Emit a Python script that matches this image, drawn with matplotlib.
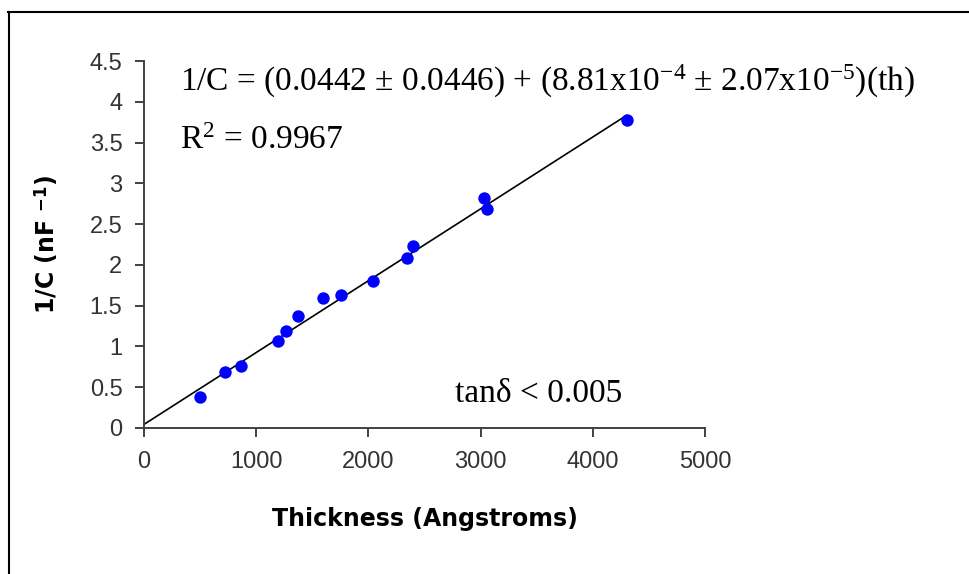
import matplotlib
matplotlib.use('Agg')
import matplotlib.pyplot as plt
from matplotlib.lines import Line2D
import numpy as np

plt.rcParams['mathtext.fontset'] = 'custom'
plt.rcParams['mathtext.rm'] = 'Liberation Serif'
plt.rcParams['mathtext.it'] = 'Liberation Serif:italic'
plt.rcParams['mathtext.bf'] = 'DejaVu Sans:bold'

# thickness (Angstroms) and 1/C (nF^-1)
thickness = [499, 722, 862, 1192, 1266, 1376, 1596, 1753, 2039,
             2342, 2401, 3034, 3061, 4303]
inv_c = [0.38, 0.69, 0.76, 1.07, 1.19, 1.37, 1.60, 1.63, 1.80,
         2.09, 2.23, 2.82, 2.69, 3.78]

# fit coefficients from the annotation
intercept = 0.0442
slope = 8.81e-4
fit_x = [0, 4300]

x_ticks = [0, 1000, 2000, 3000, 4000, 5000]
y_ticks = [0, 0.5, 1, 1.5, 2, 2.5, 3, 3.5, 4, 4.5]
y_ticklabels = ['0', '0.5', '1', '1.5', '2', '2.5', '3', '3.5', '4', '4.5']

fig = plt.figure(figsize=(9.69, 5.74), dpi=100)
ax = fig.add_axes([144/969, 146/574, 561/969, 367/574])

fx = np.array(fit_x)
ax.plot(fx, intercept + slope*fx, color='black', lw=1.2, zorder=2)
ax.scatter(thickness, inv_c, s=80, color='#0000FF', zorder=3, linewidths=0)

ax.set_xlim(0, 5000)
ax.set_ylim(0, 4.5)
ax.set_xticks(x_ticks)
ax.set_yticks(y_ticks)
ax.set_yticklabels(y_ticklabels)
for s in ['top', 'right']:
    ax.spines[s].set_visible(False)
for s in ['left', 'bottom']:
    ax.spines[s].set_color('#404040')
    ax.spines[s].set_linewidth(1.4)
ax.tick_params(direction='out', length=6.5, width=1.4, color='#404040',
               labelcolor='#333333', labelsize=17)
ax.tick_params(axis='x', pad=10)
ax.tick_params(axis='y', pad=9)
for lab in ax.get_xticklabels() + ax.get_yticklabels():
    lab.set_family('Liberation Sans')

ax.set_xlabel('Thickness (Angstroms)', family='DejaVu Sans',
              fontweight='bold', fontsize=17)
ax.set_ylabel(r'1/C (nF $^{\mathbf{-1}}$)', family='DejaVu Sans',
              fontweight='bold', fontsize=17)
ax.xaxis.set_label_coords(0.5, -0.215)
ax.yaxis.set_label_coords(-0.148, 0.5)

serif = dict(family='Liberation Serif', fontsize=24, color='black',
             va='baseline', ha='left')
ax.text(321, 4.14, r'1/C = (0.0442 $\pm$ 0.0446) + (8.81x10$^{-4}$ $\pm$ 2.07x10$^{-5}$)(th)',
        **serif)
ax.text(321, 3.415, r'R$^{2}$ = 0.9967', **serif)
ax.text(2772, 0.322, 'tanδ < 0.005', **serif)

# outer frame (top and left edges only)
fig.add_artist(Line2D([8/969, 1], [1 - 12/574, 1 - 12/574], color='black',
                      lw=1.5, transform=fig.transFigure))
fig.add_artist(Line2D([9/969, 9/969], [0, 1 - 12/574], color='black',
                      lw=1.5, transform=fig.transFigure))

fig.savefig('out.png', dpi=100)
